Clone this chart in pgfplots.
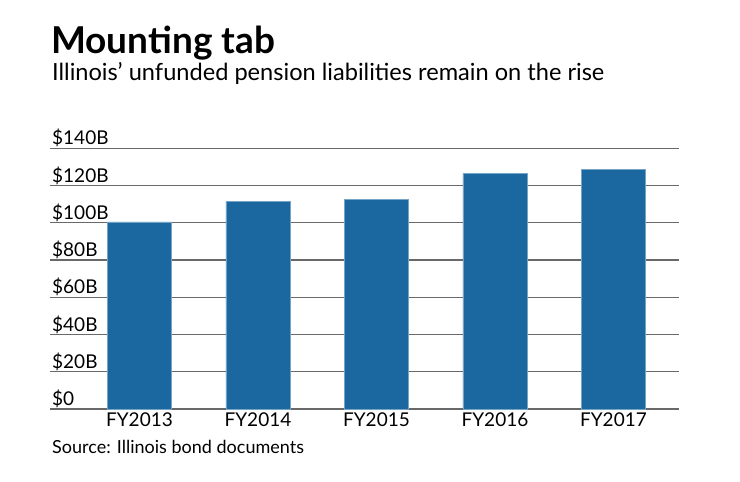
\documentclass[border=0pt]{standalone}
\usepackage{pgfplots}
\pgfplotsset{compat=1.18}
\usepackage{fontspec}
\setmainfont{Lato}
\definecolor{barblue}{RGB}{27,103,160}
\definecolor{gridgray}{RGB}{105,105,105}
\begin{document}
\begin{tikzpicture}[x=1pt,y=1pt]
\useasboundingbox (0,0) rectangle (740,482);
% headline block
\node[anchor=base west, inner sep=0pt] at (51,428) {\fontsize{37}{37}\selectfont\bfseries Mounting tab};
\node[anchor=base west, inner sep=0pt] at (52,401) {\fontsize{23.6}{23.6}\selectfont Illinois’ unfunded pension liabilities remain on the rise};
\begin{axis}[
  at={(50pt,73pt)}, anchor=south west,
  scale only axis, width=629pt, height=260.7pt,
  xmin=-0.755, xmax=4.553, ymin=0, ymax=140,
  axis line style={draw=none},
  tick style={draw=none},
  ymajorgrids,
  grid style={gridgray, line width=1.2pt},
  ytick={0,20,...,140},
  yticklabels={\$0,\$20B,\$40B,\$60B,\$80B,\$100B,\$120B,\$140B},
  yticklabel style={anchor=base west, inner sep=0pt, xshift=2pt, yshift=3.5pt, font=\fontsize{19}{19}\selectfont},
  xtick={0,1,2,3,4},
  xticklabels={FY2013,FY2014,FY2015,FY2016,FY2017},
  xticklabel style={anchor=base, inner sep=0pt, yshift=-17.7pt, font=\fontsize{19}{19}\selectfont},
  clip=false,
]
\addplot[ybar, bar width=64pt, fill=barblue, draw=barblue!60!white, line width=0.6pt]
  coordinates {(0,100.5) (1,111.3) (2,112.6) (3,126.4) (4,128.7)};
\end{axis}
\node[anchor=base west, inner sep=0pt] at (52,28) {\fontsize{18}{18}\selectfont Source: Illinois bond documents};
\end{tikzpicture}
\end{document}
